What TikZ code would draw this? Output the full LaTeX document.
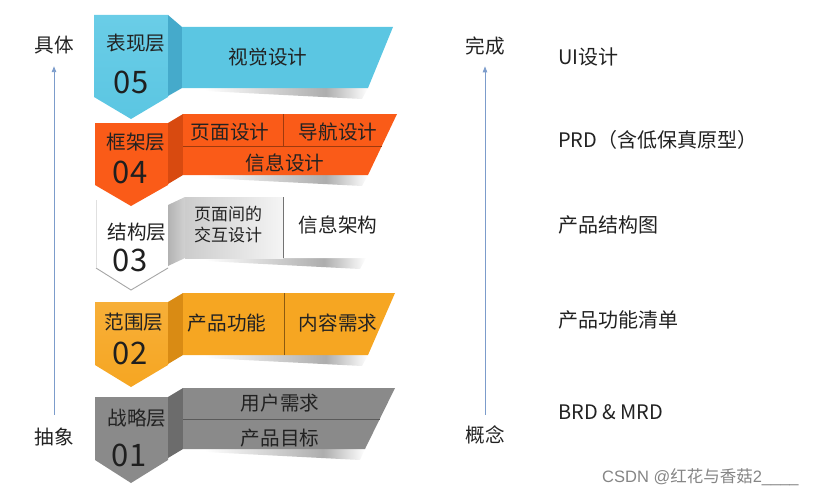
\documentclass[tikz,border=0pt]{standalone}
\usepackage{fontspec}
\setmainfont{Noto Sans CJK SC}
\newfontfamily\wmlatin{Liberation Sans}
\usetikzlibrary{arrows.meta}
\definecolor{blueA}{HTML}{5BC6E2}
\definecolor{blueT}{HTML}{6ACDE7}
\definecolor{blueF}{HTML}{45AACB}
\definecolor{redA}{HTML}{FA5B18}
\definecolor{redF}{HTML}{D84A10}
\definecolor{redL}{HTML}{9E3A0E}
\definecolor{ambA}{HTML}{F6A622}
\definecolor{ambF}{HTML}{D98B14}
\definecolor{ambL}{HTML}{8C5A10}
\definecolor{grA}{HTML}{8A8A8A}
\definecolor{grF}{HTML}{6C6C6C}
\definecolor{grL}{HTML}{5A5A5A}
\definecolor{axiscol}{HTML}{7C9CCB}
\definecolor{txt}{HTML}{222222}
\pgfdeclarehorizontalshading{ribshadow}{100bp}{color(0bp)=(white); color(25bp)=(white); color(62bp)=(black!32); color(75bp)=(white); color(100bp)=(white)}
\tikzset{
  lbl/.style={text=txt, font=\fontsize{19.6}{20}\selectfont, inner sep=0pt},
  num/.style={text=black!88, font=\fontsize{31}{31}\selectfont, inner sep=0pt},
  smalllbl/.style={text=txt, font=\fontsize{17}{21}\selectfont, align=left, inner sep=0pt},
  rlbl/.style={text=txt, font=\fontsize{20}{20}\selectfont, inner sep=0pt, anchor=west},
  wmark/.style={text=black!48, font=\fontsize{16.5}{16.5}\selectfont, inner sep=0pt},
  axisarrow/.style={draw=axiscol, line width=0.9pt, -{Triangle[length=6pt,width=4.5pt]}},
  divider/.style={line width=0.8pt},
  shadowpart/.style={shading=ribshadow}
}
\begin{document}
\begin{tikzpicture}[x=1pt,y=-1pt]
\useasboundingbox (0,0) rectangle (834,495);

% ---------------- Band 01 (gray) ----------------
\shade[shadowpart] (205,449) -- (365,449) -- (360,460) -- (205,452) -- cycle;
\fill[grA] (95,397) -- (168,397) -- (168,460) -- (131,483) -- (95,460) -- cycle;
\fill[grF] (168,397) -- (183,388) -- (183,449) -- (168,458) -- cycle;
\fill[grA] (183,388) -- (395,388) -- (365,449) -- (183,449) -- cycle;
\draw[grL, divider] (183,419) -- (380.3,419);
\node[lbl] (t01) at (137,418) {战略层};
\node[num] (n01) at (129,455) {01};
\node[lbl] (a01) at (280,403) {用户需求};
\node[lbl] (b01) at (280,438) {产品目标};

% ---------------- Band 02 (amber) ----------------
\shade[shadowpart] (205,355) -- (368,355) -- (362,366) -- (205,358) -- cycle;
\shade[top color=ambA!90!white, bottom color=ambA] (95,302) -- (168,302) -- (168,365) -- (131,387) -- (95,365) -- cycle;
\fill[ambF] (168,302) -- (183,293) -- (183,355) -- (168,364) -- cycle;
\fill[ambA] (183,293) -- (395,293) -- (368,355) -- (183,355) -- cycle;
\draw[ambL, divider] (284,293) -- (284,355);
\node[lbl] (t02) at (134,322) {范围层};
\node[num] (n02) at (130,353) {02};
\node[lbl] (a02) at (227,323) {产品功能};
\node[lbl] (b02) at (338,323) {内容需求};

% ---------------- Band 03 (white / light gray) ----------------
\shade[shadowpart] (205,258) -- (366,258) -- (360,269) -- (205,261) -- cycle;
\fill[white] (96,200) -- (168,200) -- (168,268) -- (131,290) -- (96,268) -- cycle;
\draw[black!35, line width=0.9pt] (96,268) -- (131,290) -- (168,268);
\draw[black!12, line width=0.6pt] (96,200) -- (96,268);
\shade[left color=black!30, right color=black!18] (168,205) -- (185,197) -- (185,258) -- (168,266) -- cycle;
\shade[left color=black!20, right color=black!4] (185,197) -- (283,197) -- (283,258) -- (185,258) -- cycle;
\fill[white] (283,197) -- (395,197) -- (368,258) -- (283,258) -- cycle;
\draw[black!55, divider] (283,197) -- (283,258);
\node[lbl] (t03) at (137,232) {结构层};
\node[num] (n03) at (130,260) {03};
\node[smalllbl] (a03) at (228,225) {页面间的\\交互设计};
\node[lbl] (b03) at (338,225) {信息架构};

% ---------------- Band 04 (orange-red) ----------------
\shade[shadowpart] (205,175) -- (368,175) -- (362,186) -- (205,178) -- cycle;
\fill[redA] (95,123) -- (168,123) -- (168,185) -- (131,206) -- (95,185) -- cycle;
\fill[redF] (168,123) -- (183,114) -- (183,175) -- (168,184) -- cycle;
\fill[redA] (183,114) -- (397,114) -- (368,175) -- (183,175) -- cycle;
\draw[redL, divider] (183,146) -- (381.8,146);
\draw[redL, divider] (283,114) -- (283,146);
\node[lbl] (t04) at (136,142) {框架层};
\node[num] (n04) at (130,172) {04};
\node[lbl] (a04) at (230,132) {页面设计};
\node[lbl] (b04) at (338,132) {导航设计};
\node[lbl] (c04) at (285,163) {信息设计};

% ---------------- Band 05 (blue) ----------------
\shade[shadowpart] (205,88) -- (368,88) -- (362,99) -- (205,91) -- cycle;
\shade[top color=blueT, bottom color=blueA] (94,15) -- (168,15) -- (168,97) -- (131,119) -- (94,97) -- cycle;
\fill[blueF] (168,15) -- (182,27) -- (182,88) -- (168,96) -- cycle;
\fill[blueA] (182,27) -- (393,27) -- (368,88) -- (182,88) -- cycle;
\node[lbl] (t05) at (136,43) {表现层};
\node[num] (n05) at (131,82) {05};
\node[lbl] (a05) at (268,57) {视觉设计};

% ---------------- Left axis ----------------
\node[lbl] (concrete) at (54,45) {具体};
\node[lbl] (abstract) at (54,437) {抽象};
\draw[axisarrow, shorten <=13pt, shorten >=12pt] (abstract.north) -- (concrete.south);

% ---------------- Right axis ----------------
\node[lbl] (done) at (485,46) {完成};
\node[lbl] (concept) at (485,435) {概念};
\draw[axisarrow, shorten <=11pt, shorten >=11pt] (concept.north) -- (done.south);

% ---------------- Right labels ----------------
\node[rlbl] (r05) at (558,57) {UI设计};
\node[rlbl] (r04) at (558,140) {PRD（含低保真原型）};
\node[rlbl] (r03) at (558,225) {产品结构图};
\node[rlbl] (r02) at (558,320) {产品功能清单};
\node[rlbl] (r01) at (558,412) {BRD \& MRD};

% ---------------- Watermark ----------------
\node[wmark, anchor=west] (wm) at (602,477) {{\wmlatin CSDN @}红花与香菇{\wmlatin 2\_\_\_\_}};
\end{tikzpicture}
\end{document}
